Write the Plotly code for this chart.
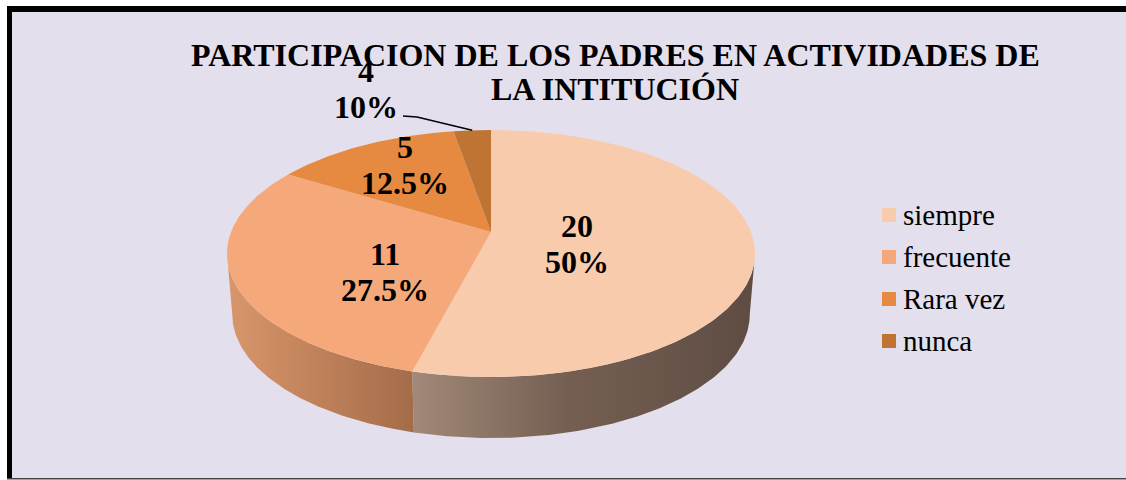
import numpy as np
import plotly.graph_objects as go

# ---------------- data ----------------
categories = ["siempre", "frecuente", "Rara vez", "nunca"]
slice_values = [20, 11, 5, 1]            # slice sizes as drawn in the picture
label_counts = ["20", "11", "5", "4"]     # printed data labels
label_percents = ["50%", "27.5%", "12.5%", "10%"]
title_lines = ["PARTICIPACION DE LOS PADRES EN ACTIVIDADES DE", "LA INTITUCIÓN"]

# ---------------- styles ----------------
top_colors = ["#F8CBAD", "#F5A97A", "#E58A40", "#BF7433"]
side_scales = [
    [[0, "#A28979"], [0.45, "#755F52"], [1, "#5E4C43"]],
    [[0, "#D9966B"], [1, "#A46C49"]],
    [[0, "#C9793A"], [1, "#A8622C"]],
    [[0, "#A8652C"], [1, "#8E5424"]],
]
BG = "#E4DFEC"
SERIF = "Liberation Serif, Times New Roman, serif"

W, H = 1126, 480
CX, CY = 491, 232            # projected centre of top face
A, B, K = 260, 119.8, 0.174  # perspective ellipse parameters
DEPTH, SHRINK = 61, 0.98


def top_pt(theta_deg, r=1.0):
    t = np.radians(theta_deg)
    u, v = r * np.sin(t), r * np.cos(t)
    w = 1 + K * v
    return CX + A * u / w, CY - B * v / w


def bot_pt(theta_deg):
    x, y = top_pt(theta_deg)
    return CX + (x - CX) * SHRINK, y + DEPTH


vals = np.array(slice_values, dtype=float)
ends = np.cumsum(vals) / vals.sum() * 360.0
starts = np.concatenate([[0.0], ends[:-1]])

# visible part of the rim (silhouette where cos(theta) = -K)
vis0 = np.degrees(np.arccos(-K))
vis1 = 360 - vis0

fig = go.Figure()

# side walls
for i, cat in enumerate(categories):
    a0, a1 = max(starts[i], vis0), min(ends[i], vis1)
    if a1 <= a0:
        continue
    th = np.linspace(a0, a1, 120)
    tx, ty = top_pt(th)
    bx, by = bot_pt(th[::-1])
    fig.add_trace(go.Scatter(
        x=np.concatenate([tx, bx]), y=np.concatenate([ty, by]),
        mode="lines", fill="toself", line=dict(width=0),
        fillgradient=dict(type="horizontal", colorscale=side_scales[i]),
        hoverinfo="skip", showlegend=False))

# top face slices
for i, cat in enumerate(categories):
    th = np.linspace(starts[i], ends[i], 200)
    ax, ay = top_pt(th)
    fig.add_trace(go.Scatter(
        x=np.concatenate([[CX], ax, [CX]]), y=np.concatenate([[CY], ay, [CY]]),
        mode="lines", fill="toself", fillcolor=top_colors[i],
        line=dict(width=0, color=top_colors[i]),
        name=cat, hoverinfo="skip", showlegend=False))

# data labels (two lines each)
label_pos = [(577, 244), (385, 272), (405, 165), (366, 89)]
annotations = []
for i in range(len(categories)):
    lxp, lyp = label_pos[i]
    for txt, dy in ((label_counts[i], -18), (label_percents[i], 18)):
        annotations.append(dict(
            x=lxp, y=lyp + dy, xref="x", yref="y", text=f"<b>{txt}</b>",
            showarrow=False, font=dict(family=SERIF, size=32, color="#000000"),
            xanchor="center", yanchor="middle"))

# leader line for the small slice
mid_last = (starts[-1] + ends[-1]) / 2
lx, ly = top_pt(mid_last)
fig.add_trace(go.Scatter(x=[403, 417, lx], y=[116, 117, ly], mode="lines",
                         line=dict(color="#000000", width=1.5),
                         hoverinfo="skip", showlegend=False))

# title
annotations.append(dict(x=615, y=55, xref="x", yref="y", text=f"<b>{title_lines[0]}</b>",
                        showarrow=False, font=dict(family=SERIF, size=32, color="#000000"),
                        xanchor="center", yanchor="middle"))
annotations.append(dict(x=615, y=89, xref="x", yref="y", text=f"<b>{title_lines[1]}</b>",
                        showarrow=False, font=dict(family=SERIF, size=32, color="#000000"),
                        xanchor="center", yanchor="middle"))

# legend (manual)
shapes = [
    dict(type="rect", xref="x", yref="y", x0=7, y0=6, x1=1130, y1=479,
         fillcolor=BG, line=dict(width=0), layer="below"),
]
for i, cat in enumerate(categories):
    yc = 215 + 42 * i
    shapes.append(dict(type="rect", xref="x", yref="y", x0=882, x1=896, y0=yc - 7, y1=yc + 7,
                       fillcolor=top_colors[i], line=dict(width=0)))
    annotations.append(dict(x=901, y=yc, xref="x", yref="y", text=cat, showarrow=False,
                            font=dict(family=SERIF, size=29, color="#000000"),
                            xanchor="left", yanchor="middle"))

# frame
shapes += [
    dict(type="rect", xref="x", yref="y", x0=7, y0=6, x1=12, y1=479,
         fillcolor="#000000", line=dict(width=0)),
    dict(type="rect", xref="x", yref="y", x0=7, y0=6, x1=1130, y1=12,
         fillcolor="#000000", line=dict(width=0)),
    dict(type="rect", xref="x", yref="y", x0=7, y0=478, x1=1130, y1=479.5,
         fillcolor="#444444", line=dict(width=0)),
]

fig.update_layout(
    width=W, height=H, autosize=False,
    margin=dict(l=0, r=0, t=0, b=0),
    paper_bgcolor="#FFFFFF", plot_bgcolor="rgba(0,0,0,0)",
    xaxis=dict(range=[0, W], visible=False, fixedrange=True),
    yaxis=dict(range=[H, 0], visible=False, fixedrange=True),
    shapes=shapes, annotations=annotations, showlegend=False,
    hovermode=False,
)

fig.write_html(
    "out.html", config={"displayModeBar": False},
    post_script="document.body.style.margin='0';document.body.style.padding='0';"
                "document.body.style.overflow='hidden';"
                "document.documentElement.style.overflow='hidden';")
